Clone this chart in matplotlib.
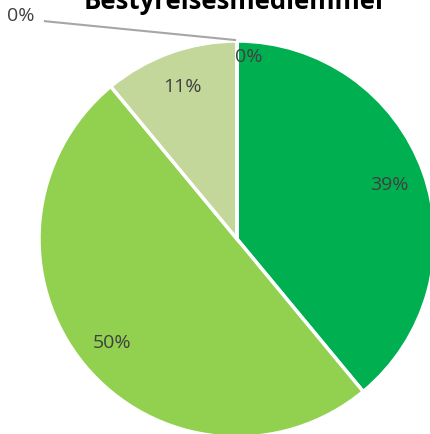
import matplotlib
matplotlib.use("Agg")
import matplotlib.pyplot as plt
import numpy as np

title = "Bestyrelsesmedlemmer"
categories = ["A", "B", "C", "D", "E"]
values = [0, 39, 50, 11, 0]
colors = ["#00B050", "#00B050", "#92D050", "#C4D79B", "#C4D79B"]

plt.rcParams['font.family'] = ['Open Sans', 'DejaVu Sans']

fig = plt.figure(figsize=(4.30, 4.35), dpi=100)
W, H = 430, 435
cx, cy, R = 237, 240, 198
ax = fig.add_axes([(cx - R) / W, (H - cy - R) / H, 2 * R / W, 2 * R / H])

wedges, texts, autotexts = ax.pie(
    values, colors=colors, startangle=90, counterclock=False,
    autopct=lambda p: f"{p:.0f}%", pctdistance=0.82,
    wedgeprops=dict(edgecolor="white", linewidth=2.5),
    textprops=dict(color="#404040", fontsize=14))
ax.set_xlim(-1, 1)
ax.set_ylim(-1, 1)
ax.set_aspect("equal")

# zero-slice labels
autotexts[0].set_position((-0.01, 0.925))
autotexts[0].set_ha("left")
autotexts[4].set_position((-1.09, 1.13))
autotexts[4].set_ha("center")
ax.plot([-0.97, -0.01], [1.10, 1.005], color="#A6A6A6", lw=1.5, clip_on=False)

fig.text(235 / W, 1 - 9 / H, title, ha="center", va="baseline",
         fontsize=18.5, fontweight="bold", color="black")

fig.savefig("out.png", dpi=100)
